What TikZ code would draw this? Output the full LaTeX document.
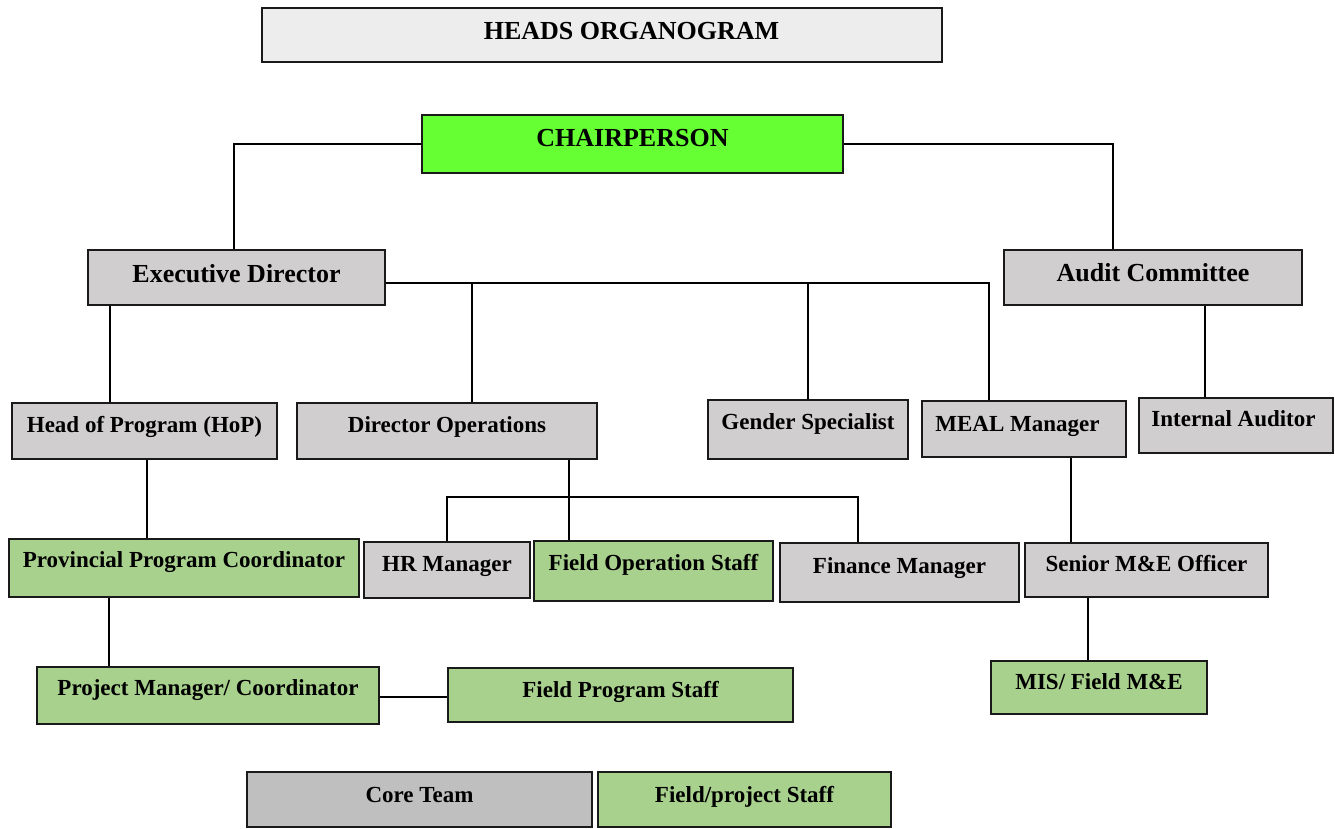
\documentclass[tikz,border=0pt]{standalone}
\usepackage{fontspec}
\setmainfont{Liberation Serif}
\definecolor{chairgreen}{HTML}{66FF33}
\definecolor{staffgreen}{HTML}{A9D18E}
\definecolor{coregray}{HTML}{D0CECE}
\definecolor{titlegray}{HTML}{EDEDED}
\definecolor{keygray}{HTML}{BFBFBF}
\definecolor{edge}{HTML}{1A1A1A}
\tikzset{
  box/.style={draw=edge, line width=1.5pt, inner sep=0pt,
    font=\bfseries\fontsize{23}{26}\selectfont},
  bigbox/.style={box, font=\bfseries\fontsize{26}{30}\selectfont},
  core/.style={fill=coregray},
  field/.style={fill=staffgreen},
  conn/.style={draw=black, line width=2pt},
}
\begin{document}
\begin{tikzpicture}[x=1pt,y=-1pt]
\useasboundingbox (0,0) rectangle (1335,829);
% boxes
\node[bigbox, fill=titlegray, minimum width=680pt, minimum height=54pt, text height=20pt, text depth=10pt] (title) at (602,35) {\hspace*{59pt}HEADS ORGANOGRAM};
\node[bigbox, fill=chairgreen, minimum width=421pt, minimum height=58pt, text height=18pt, text depth=12pt] (chair) at (632.5,144) {CHAIRPERSON};
\node[bigbox, core, minimum width=297pt, minimum height=55pt, text height=19.5pt, text depth=10.5pt] (ed) at (236.5,277.5) {Executive Director};
\node[bigbox, core, minimum width=298pt, minimum height=55pt, text height=18.5pt, text depth=11.5pt] (audit) at (1153,277.5) {Audit Committee};
\node[box, core, minimum width=265pt, minimum height=56pt, text height=16pt, text depth=14pt] (hop) at (144.5,431) {Head of Program (HoP)};
\node[box, core, minimum width=300pt, minimum height=56pt, text height=16pt, text depth=14pt] (dirops) at (447,431) {Director Operations};
\node[box, core, minimum width=200pt, minimum height=59pt, text height=14.5pt, text depth=15.5pt] (gender) at (808,429.5) {Gender Specialist};
\node[box, core, minimum width=204pt, minimum height=56pt, text height=17pt, text depth=13pt] (meal) at (1024,429) {MEAL Manager\hspace*{13pt}};
\node[box, core, minimum width=194pt, minimum height=55pt, text height=15.5pt, text depth=14.5pt] (internal) at (1236,425.5) {Internal Auditor\hspace*{5pt}};
\node[box, field, minimum width=350pt, minimum height=58pt, text height=14pt, text depth=16pt] (ppc) at (184,568) {Provincial Program Coordinator};
\node[box, core, minimum width=166pt, minimum height=56pt, text height=16pt, text depth=14pt] (hr) at (447,570) {HR Manager};
\node[box, field, minimum width=239pt, minimum height=60pt, text height=14pt, text depth=16pt] (fos) at (653.5,571) {Field Operation Staff};
\node[box, core, minimum width=239pt, minimum height=59pt, text height=15.5pt, text depth=14.5pt] (fin) at (899.5,572.5) {Finance Manager};
\node[box, core, minimum width=243pt, minimum height=54pt, text height=16pt, text depth=14pt] (senior) at (1146.5,570) {Senior M\&E Officer};
\node[box, field, minimum width=342pt, minimum height=57pt, text height=14.5pt, text depth=15.5pt] (pm) at (208,695.5) {Project Manager/ Coordinator};
\node[box, field, minimum width=345pt, minimum height=54pt, text height=17pt, text depth=13pt] (fps) at (620.5,695) {Field Program Staff};
\node[box, field, minimum width=216pt, minimum height=53pt, text height=16.5pt, text depth=13.5pt] (mis) at (1099,687.5) {MIS/ Field M\&E};
\node[box, fill=keygray, minimum width=345pt, minimum height=55pt, text height=17.5pt, text depth=12.5pt] (keycore) at (419.5,799.5) {Core Team};
\node[box, field, minimum width=293pt, minimum height=55pt, text height=17.5pt, text depth=12.5pt] (keyfield) at (744.5,799.5) {Field/project Staff};
% connectors
\draw[conn] (chair.west) -| ([xshift=-2.5]ed.north);
\draw[conn] (chair.east) -| ([xshift=-40]audit.north);
\coordinate (edbus) at ([yshift=-5.5]ed.east);
\draw[conn] (edbus) -| ([xshift=-35]meal.north);
\draw[conn] ([xshift=25]dirops.north) -- ([xshift=25]dirops.north |- edbus);
\draw[conn] (gender.north) -- (gender.north |- edbus);
\draw[conn] ([xshift=-34.5]hop.north) -- ([xshift=-34.5]hop.north |- ed.south);
\draw[conn] ([xshift=2.5]hop.south) -- ([xshift=2.5]hop.south |- ppc.north);
\draw[conn] ([xshift=122]dirops.south) -- ([xshift=122]dirops.south |- fos.north);
\coordinate (dobus) at (569,497);
\draw[conn] (hr.north) |- (dobus) -| ([xshift=-41.5]fin.north);
\draw[conn] ([xshift=-75]ppc.south) -- ([xshift=-75]ppc.south |- pm.north);
\draw[conn] ([yshift=-1.5]pm.east) -- ([yshift=-1.5]pm.east -| fps.west);
\draw[conn] ([xshift=52]audit.south) -- ([xshift=52]audit.south |- internal.north);
\draw[conn] ([xshift=47]meal.south) -- ([xshift=47]meal.south |- senior.north);
\draw[conn] ([xshift=-58.5]senior.south) -- ([xshift=-58.5]senior.south |- mis.north);
\end{tikzpicture}
\end{document}
